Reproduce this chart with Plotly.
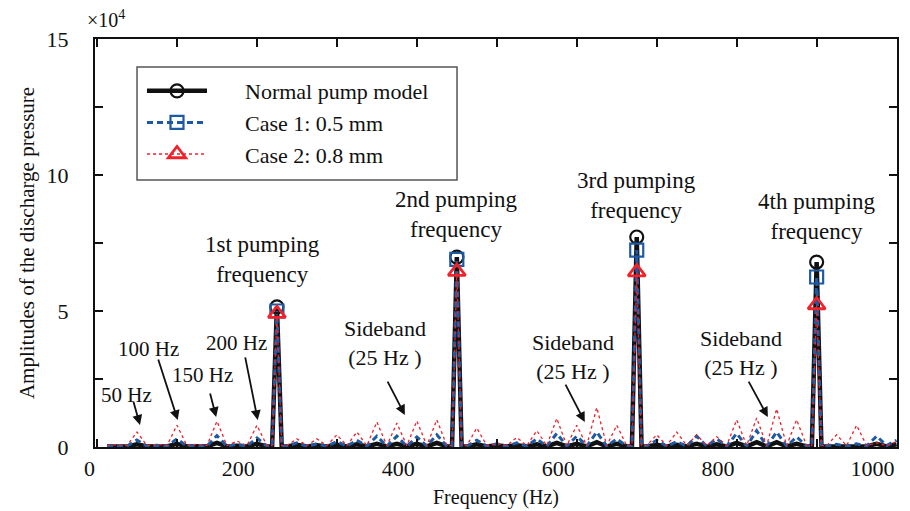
import plotly.graph_objects as go

# ---------------- data (amplitudes in units of 1e4) ----------------
FREQ = [12.5, 25, 37.5, 50, 62.5, 75, 87.5, 100, 112.5, 125, 137.5, 150, 162.5, 175, 187.5, 200, 212.5,
        219, 225, 231,
        237.5, 250, 262.5, 275, 287.5, 300, 312.5, 325, 337.5, 350, 362.5, 375, 387.5, 400, 412.5, 425, 437.5,
        444, 450, 456,
        462.5, 475, 487.5, 500, 512.5, 525, 537.5, 550, 562.5, 575, 587.5, 600, 612.5, 625, 637.5, 650, 662.5,
        669, 675, 681,
        687.5, 700, 712.5, 725, 737.5, 750, 762.5, 775, 787.5, 800, 812.5, 825, 837.5, 850, 862.5, 875, 887.5,
        894, 900, 906,
        912.5, 925, 937.5, 950, 962.5, 975, 987.5, 1000]

NORMAL = [0.02, 0.03, 0.02, 0.10, 0.02, 0.03, 0.02, 0.12, 0.02, 0.03, 0.02, 0.15, 0.02, 0.05, 0.02, 0.12, 0.02,
          0.02, 5.15, 0.02,
          0.02, 0.08, 0.02, 0.06, 0.02, 0.08, 0.02, 0.10, 0.02, 0.12, 0.02, 0.12, 0.02, 0.12, 0.02, 0.15, 0.02,
          0.02, 6.98, 0.02,
          0.02, 0.10, 0.02, 0.06, 0.02, 0.06, 0.02, 0.10, 0.02, 0.15, 0.02, 0.12, 0.02, 0.18, 0.02, 0.12, 0.02,
          0.02, 7.72, 0.02,
          0.02, 0.08, 0.02, 0.08, 0.02, 0.12, 0.02, 0.10, 0.02, 0.15, 0.02, 0.18, 0.02, 0.18, 0.02, 0.12, 0.02,
          0.02, 6.80, 0.02,
          0.02, 0.05, 0.02, 0.05, 0.02, 0.12, 0.02, 0.10]

CASE1 = [0.03, 0.05, 0.03, 0.26, 0.03, 0.06, 0.03, 0.30, 0.03, 0.06, 0.03, 0.42, 0.03, 0.10, 0.03, 0.33, 0.03,
         0.03, 5.00, 0.03,
         0.03, 0.15, 0.03, 0.12, 0.03, 0.20, 0.03, 0.25, 0.03, 0.40, 0.03, 0.40, 0.03, 0.37, 0.03, 0.45, 0.03,
         0.03, 6.90, 0.03,
         0.03, 0.25, 0.03, 0.12, 0.03, 0.15, 0.03, 0.30, 0.03, 0.50, 0.03, 0.40, 0.03, 0.55, 0.03, 0.30, 0.03,
         0.03, 7.24, 0.03,
         0.03, 0.25, 0.03, 0.20, 0.03, 0.40, 0.03, 0.30, 0.03, 0.50, 0.03, 0.60, 0.03, 0.55, 0.03, 0.37, 0.03,
         0.03, 6.25, 0.03,
         0.03, 0.10, 0.03, 0.12, 0.03, 0.40, 0.05, 0.25]

CASE2 = [0.05, 0.08, 0.05, 0.55, 0.05, 0.10, 0.05, 0.80, 0.05, 0.10, 0.05, 0.95, 0.05, 0.22, 0.05, 0.80, 0.05,
         0.05, 4.90, 0.05,
         0.05, 0.30, 0.05, 0.30, 0.05, 0.45, 0.05, 0.55, 0.05, 0.92, 0.05, 0.88, 0.05, 0.96, 0.05, 1.00, 0.05,
         0.05, 6.45, 0.05,
         0.05, 0.70, 0.05, 0.12, 0.05, 0.35, 0.05, 0.60, 0.05, 1.05, 0.05, 0.80, 0.05, 1.45, 0.05, 0.80, 0.05,
         0.05, 6.43, 0.05,
         0.05, 0.45, 0.05, 0.55, 0.05, 0.45, 0.05, 0.38, 0.05, 1.00, 0.05, 1.07, 0.05, 1.40, 0.05, 1.00, 0.05,
         0.05, 5.22, 0.05,
         0.05, 0.45, 0.05, 0.80, 0.05, 0.15, 0.05, 0.20]

PEAK_FREQ = [225, 450, 675, 900]
SERIES_NAMES = ["Normal pump model", "Case 1: 0.5 mm", "Case 2: 0.8 mm"]
X_TICKS = [0, 100, 200, 300, 400, 500, 600, 700, 800, 900, 1000]
X_TICK_TEXT = ["0", "", "200", "", "400", "", "600", "", "800", "", "1000"]
Y_TICKS = [0, 2.5, 5, 7.5, 10, 12.5, 15]
Y_TICK_TEXT = ["0", "", "5", "", "10", "", "15"]

FONT = "Liberation Serif, Times New Roman, serif"
INK = "#111111"
BLACK = "#111111"
BLUE = "#1d5aa3"
RED = "#f0222a"

styles = [
    dict(line=dict(color=BLACK, width=4.5),
         marker=dict(symbol="circle-open", size=13, color=BLACK, line=dict(width=2.2, color=BLACK))),
    dict(line=dict(color=BLUE, width=3, dash="6px,4px"),
         marker=dict(symbol="square-open", size=13, color=BLUE, line=dict(width=2.2, color=BLUE))),
    dict(line=dict(color=RED, width=1.3, dash="dot"),
         marker=dict(symbol="triangle-up-open", size=15, color=RED, line=dict(width=2.8, color=RED))),
]
data = [NORMAL, CASE1, CASE2]

fig = go.Figure()
# spectrum lines
for vals, st in zip(data, styles):
    fig.add_trace(go.Scatter(x=FREQ, y=vals, mode="lines", line=st["line"],
                             showlegend=False, hoverinfo="skip"))
# markers at the pumping-frequency peaks
peak_idx = [FREQ.index(f) for f in PEAK_FREQ]
for vals, st in zip(data, styles):
    fig.add_trace(go.Scatter(x=[FREQ[i] for i in peak_idx], y=[vals[i] for i in peak_idx],
                             mode="markers", marker=st["marker"], showlegend=False))
# legend entries
NBSP = "\u00a0" * 6
for name, st in zip(SERIES_NAMES, styles):
    fig.add_trace(go.Scatter(x=[None], y=[None], mode="lines+markers", name=NBSP + name,
                             line=st["line"], marker=st["marker"]))

labels = [
    ("1st pumping<br>frequency", 207.5, 6.88, 23),
    ("2nd pumping<br>frequency", 450, 8.53, 23),
    ("3rd pumping<br>frequency", 675, 9.26, 23),
    ("4th pumping<br>frequency", 900, 8.46, 23),
    ("Sideband<br>(25 Hz )", 360, 3.82, 22),
    ("Sideband<br>(25 Hz )", 595, 3.31, 22),
    ("Sideband<br>(25 Hz )", 805, 3.46, 22),
    ("50 Hz", 37.5, 1.91, 21),
    ("100 Hz", 64, 3.6, 21),
    ("150 Hz", 132.5, 2.65, 21),
    ("200 Hz", 174, 3.82, 21),
]
for t, x, y, fs in labels:
    fig.add_annotation(x=x, y=y, text=t, showarrow=False,
                       font=dict(family=FONT, size=fs, color=INK),
                       xanchor="center", yanchor="middle")

arrows = [
    ((45, 1.73), (53.75, 0.81)),
    ((76, 3.27), (101, 0.99)),
    ((141, 2.02), (149, 1.10)),
    ((185, 3.35), (201, 0.99)),
    ((362.5, 2.46), (385, 1.18)),
    ((585, 2.35), (610, 0.92)),
    ((814, 2.46), (839, 1.10)),
]
for (tx, ty), (hx, hy) in arrows:
    fig.add_annotation(x=hx, y=hy, ax=tx, ay=ty, axref="x", ayref="y", xref="x", yref="y",
                       text="", showarrow=True, arrowhead=2, arrowsize=1.1,
                       arrowwidth=1.8, arrowcolor=INK)

fig.add_annotation(x=-0.0125, y=1.015, xref="paper", yref="paper", text="×10<sup>4</sup>",
                   showarrow=False, xanchor="left", yanchor="bottom",
                   font=dict(family=FONT, size=20, color=INK))

# legend frame
fig.add_shape(type="rect", xref="paper", yref="paper",
              x0=0.0524, x1=0.4514, y0=0.6544, y1=0.9314,
              line=dict(color="#555555", width=1.5), fillcolor="white", layer="below")

axis_common = dict(showline=True, linecolor=INK, linewidth=2.2, mirror="ticks",
                   ticks="inside", ticklen=8, tickwidth=2, tickcolor=INK,
                   showgrid=False, zeroline=False, automargin=False,
                   tickfont=dict(family=FONT, size=22, color=INK))

fig.update_xaxes(range=[-2.5, 1000.5], tickvals=X_TICKS, ticktext=X_TICK_TEXT,
                 ticklabelposition="outside left",
                 title=dict(text="Frequency (Hz)", font=dict(family=FONT, size=20, color=INK),
                            standoff=10),
                 **axis_common)
fig.update_yaxes(range=[0, 15], tickvals=Y_TICKS, ticktext=Y_TICK_TEXT,
                 ticklabelstandoff=20,
                 title=dict(text="Amplitudes of the discharge pressure",
                            font=dict(family=FONT, size=21, color=INK), standoff=6),
                 **axis_common)

fig.update_layout(
    width=910, height=511,
    margin=dict(l=95, r=13, t=39, b=64, autoexpand=False),
    paper_bgcolor="white", plot_bgcolor="white",
    font=dict(family=FONT, color=INK),
    legend=dict(x=0.0586, y=0.924, xanchor="left", yanchor="top",
                borderwidth=0, bgcolor="rgba(0,0,0,0)",
                font=dict(family=FONT, size=22, color=INK),
                itemwidth=60),
)

fig.write_html("out.html")
